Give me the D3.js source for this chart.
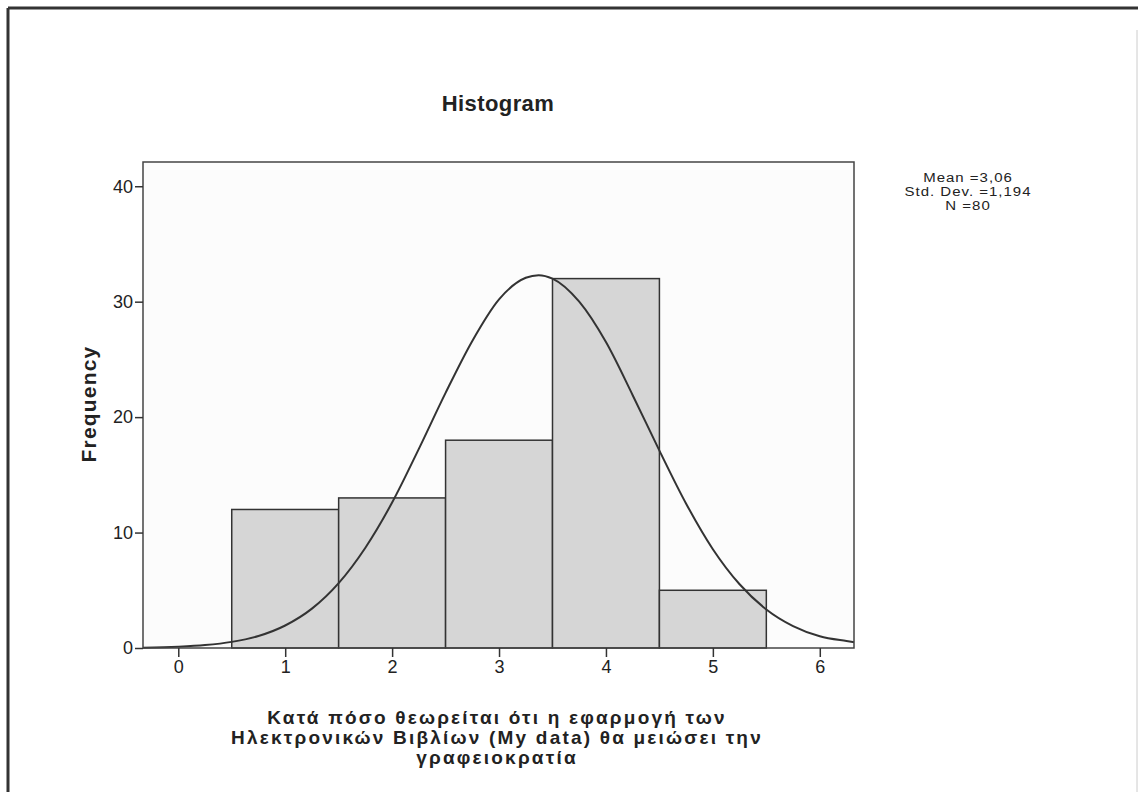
<!DOCTYPE html>
<html>
<head>
<meta charset="utf-8">
<script src="https://cdn.jsdelivr.net/npm/d3@7"></script>
<style>
  body { margin: 0; background: #fff; }
  svg { font-family: "Liberation Sans", Arial, sans-serif; }
  .axis path { display: none; }
  .axis line { stroke: #333; stroke-width: 1.5; }
  .axis text { font-size: 18px; fill: #222; }
</style>
</head>
<body>
<div id="ChartArea"></div>
<script>
// bins (lower edge, upper edge) and frequency
var binStart = [0.5, 1.5, 2.5, 3.5, 4.5];
var binEnd   = [1.5, 2.5, 3.5, 4.5, 5.5];
var freq     = [12, 13, 18, 32, 5];

// normal curve
var curveX = [-0.33, 0, 0.25, 0.5, 0.75, 1, 1.25, 1.5, 1.75, 2, 2.25, 2.5, 2.75, 3, 3.25, 3.37, 3.5, 3.75, 4, 4.25, 4.5, 4.75, 5, 5.25, 5.5, 5.75, 6, 6.25, 6.32];
var curveY = [0.03, 0.11, 0.25, 0.53, 1.04, 1.95, 3.41, 5.62, 8.69, 12.6, 17.25, 22.1, 26.6, 30.2, 32.07, 32.3, 32.0, 30.0, 26.5, 21.9, 17.1, 12.5, 8.56, 5.52, 3.34, 1.9, 1.02, 0.6, 0.5];

var xTicks = [0, 1, 2, 3, 4, 5, 6];
var yTicks = [0, 10, 20, 30, 40];

var statsLines = ["Mean =3,06", "Std. Dev. =1,194", "N =80"];
var xLabelLines = ["Κατά πόσο θεωρείται ότι η εφαρμογή  των", "Ηλεκτρονικών Βιβλίων (My data) θα μειώσει την", "γραφειοκρατία"];

function write_histogram ()
{
  var W = 1140, H = 792;
  var plot = {left: 143, right: 854, top: 162, bottom: 648};

  var svg = d3.select("#ChartArea").append("svg")
      .attr("width", W)
      .attr("height", H);

  // outer frame (scanned page edge)
  svg.append("line").attr("x1", 8).attr("y1", 8).attr("x2", 8).attr("y2", H)
      .attr("stroke", "#333").attr("stroke-width", 3);
  svg.append("line").attr("x1", 8).attr("y1", 8).attr("x2", 1138).attr("y2", 8)
      .attr("stroke", "#333").attr("stroke-width", 3);
  svg.append("line").attr("x1", 1137).attr("y1", 30).attr("x2", 1137).attr("y2", H)
      .attr("stroke", "#ccc").attr("stroke-width", 1);

  var x = d3.scaleLinear().domain([-0.33, 6.32]).range([plot.left, plot.right]);
  var y = d3.scaleLinear().domain([0, 42.1]).range([plot.bottom, plot.top]);

  // plot background
  svg.append("rect")
      .attr("x", plot.left).attr("y", plot.top)
      .attr("width", plot.right - plot.left).attr("height", plot.bottom - plot.top)
      .attr("fill", "#fcfcfc");

  // bars
  svg.selectAll(".bar")
    .data(freq)
    .enter().append("rect")
    .attr("class", "bar")
    .attr("x", function(d, i) { return x(binStart[i]); })
    .attr("y", function(d) { return y(d); })
    .attr("width", function(d, i) { return x(binEnd[i]) - x(binStart[i]); })
    .attr("height", function(d) { return y(0) - y(d); })
    .attr("fill", "#d6d6d6")
    .attr("stroke", "#333")
    .attr("stroke-width", 1.5);

  // normal curve
  var line = d3.line()
      .x(function(d, i) { return x(curveX[i]); })
      .y(function(d) { return y(d); })
      .curve(d3.curveMonotoneX);
  svg.append("path")
      .datum(curveY)
      .attr("d", line)
      .attr("fill", "none")
      .attr("stroke", "#333")
      .attr("stroke-width", 2);

  // plot frame
  svg.append("rect")
      .attr("x", plot.left).attr("y", plot.top)
      .attr("width", plot.right - plot.left).attr("height", plot.bottom - plot.top)
      .attr("fill", "none")
      .attr("stroke", "#444")
      .attr("stroke-width", 1.5);

  // axes
  svg.append("g")
      .attr("class", "axis")
      .attr("transform", "translate(0," + plot.bottom + ")")
      .call(d3.axisBottom(x).tickValues(xTicks).tickSize(9).tickPadding(3).tickFormat(d3.format("d")));

  svg.append("g")
      .attr("class", "axis")
      .attr("transform", "translate(" + plot.left + ",0)")
      .call(d3.axisLeft(y).tickValues(yTicks).tickSize(8).tickPadding(2).tickFormat(d3.format("d")));

  // title
  svg.append("text")
      .attr("x", 498).attr("y", 111)
      .attr("text-anchor", "middle")
      .attr("font-size", "22px").attr("font-weight", "bold").attr("fill", "#222")
      .attr("letter-spacing", "0.4px")
      .text("Histogram");

  // y label
  svg.append("text")
      .attr("transform", "translate(96,404) rotate(-90)")
      .attr("text-anchor", "middle")
      .attr("font-size", "21px").attr("font-weight", "bold").attr("fill", "#222")
      .attr("letter-spacing", "1.2px")
      .text("Frequency");

  // x label
  svg.selectAll(".xlabel")
    .data(xLabelLines)
    .enter().append("text")
    .attr("class", "xlabel")
    .attr("x", 497)
    .attr("y", function(d, i) { return 724 + i * 20; })
    .attr("text-anchor", "middle")
    .attr("font-size", "19px").attr("font-weight", "bold").attr("fill", "#222")
    .attr("letter-spacing", "2.2px")
    .text(function(d) { return d; });

  // stats box (wide glyphs, stretched horizontally)
  var stats = svg.append("g")
      .attr("transform", "translate(968,0) scale(1.25,1)");
  stats.selectAll(".stats")
    .data(statsLines)
    .enter().append("text")
    .attr("class", "stats")
    .attr("x", 0)
    .attr("y", function(d, i) { return 182 + i * 14; })
    .attr("text-anchor", "middle")
    .attr("font-size", "12px").attr("fill", "#222")
    .attr("letter-spacing", "0.8px")
    .text(function(d) { return d; });
}

write_histogram();
</script>
</body>
</html>
